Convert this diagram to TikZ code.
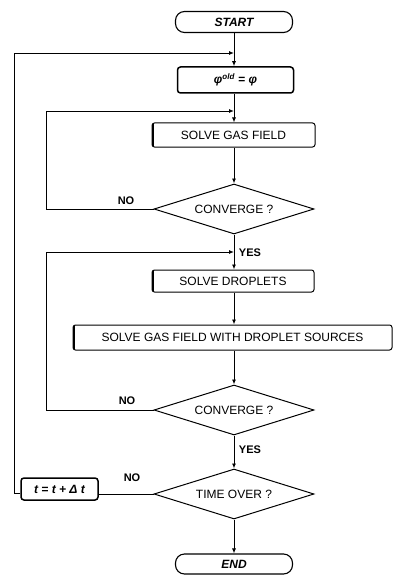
\documentclass[tikz,border=0pt]{standalone}
\usepackage{fontspec}
\setmainfont{Liberation Sans}
\usetikzlibrary{shapes.geometric,arrows.meta}
\begin{document}
\begin{tikzpicture}[x=1pt,y=-1pt,
  font=\fontsize{12}{14}\selectfont,
  terminal/.style={draw,line width=1.1pt,rounded corners=9pt,minimum width=117pt,
    minimum height=21pt,inner sep=0pt,font=\fontsize{12}{14}\selectfont\bfseries\itshape},
  assignbox/.style={draw,line width=1.5pt,rounded corners=3pt,inner sep=0pt,
    font=\fontsize{12}{14}\selectfont\bfseries\itshape},
  procbox/.style={draw,line width=1pt,rounded corners=2.5pt,inner sep=0pt,minimum height=23pt},
  decision/.style={diamond,draw,line width=1pt,aspect=3.2,inner sep=0pt,
    minimum width=160pt,minimum height=50pt},
  lbl/.style={inner sep=0pt,font=\fontsize{11}{13}\selectfont\bfseries},
  arr/.style={line width=0.9pt,-{Latex[length=5pt,width=4pt]}},
  conn/.style={line width=0.9pt}]
\useasboundingbox (0,0) rectangle (396,575);

% flow chart blocks
\node[terminal] (start) at (234,22) {START};
\node[assignbox,minimum width=116pt,minimum height=26pt] (phi) at (235.5,80) {φ\textsuperscript{old} = φ};
\node[procbox,minimum width=163pt,minimum height=24pt] (sgf) at (233.5,135) {SOLVE GAS FIELD};
\node[decision] (c1) at (234,209) {CONVERGE ?};
\node[procbox,minimum width=162pt,minimum height=22pt] (sd) at (233,281) {SOLVE DROPLETS};
\node[procbox,minimum width=319pt,minimum height=25pt] (sgfd) at (232.5,337.5) {SOLVE GAS FIELD WITH DROPLET SOURCES};
\node[decision] (c2) at (234,410) {CONVERGE ?};
\node[decision] (to) at (234,494) {TIME OVER ?};
\node[assignbox,minimum width=77pt,minimum height=22pt] (tbox) at (59.5,489) {t = t + Δ t};
\node[terminal,minimum height=20pt] (end) at (234,564) {END};

% heavy left edges of the process boxes
\foreach \b in {sgf,sd,sgfd}
  \draw[line width=2.6pt] ([xshift=1.3pt,yshift=-1.5pt]\b.north west) -- ([xshift=1.3pt,yshift=1.5pt]\b.south west);

% loop junctions on the main axis
\coordinate (j1) at (234,53);
\coordinate (j2) at (234,111);
\coordinate (j3) at (234,252);
\coordinate (o1) at (14,53);
\coordinate (o2) at (46,111);
\coordinate (o3) at (46,252);

% main flow
\draw[arr] (start) -- (start |- phi.north);
\draw[arr] (phi.south -| j2) -- (sgf.north -| j2);
\draw[arr] (sgf.south -| j2) -- (c1.north);
\draw[arr] (c1.south) -- (sd.north -| c1);
\draw[arr] (sd.south -| c1) -- (sgfd.north -| c1);
\draw[arr] (sgfd.south -| c1) -- (c2.north);
\draw[arr] (c2) -- (to);
\draw[arr] (to) -- (end);
\draw[conn] (to.west) -- (tbox.east |- to.west);

% return loops
\draw[arr] ([yshift=-4pt]tbox.west) -- ([yshift=-4pt]tbox.west -| o1) -- (o1) -- (j1);
\draw[arr] (c1.west) -- (c1.west -| o2) -- (o2) -- (j2);
\draw[arr] (c2.west) -- (c2.west -| o3) -- (o3) -- (j3);

% branch labels
\node[lbl] (no1) at (126,201) {NO};
\node[lbl] (yes1) at (250,253) {YES};
\node[lbl] (no2) at (127,401) {NO};
\node[lbl] (yes2) at (250,450) {YES};
\node[lbl] (no3) at (132,478) {NO};
\end{tikzpicture}
\end{document}
